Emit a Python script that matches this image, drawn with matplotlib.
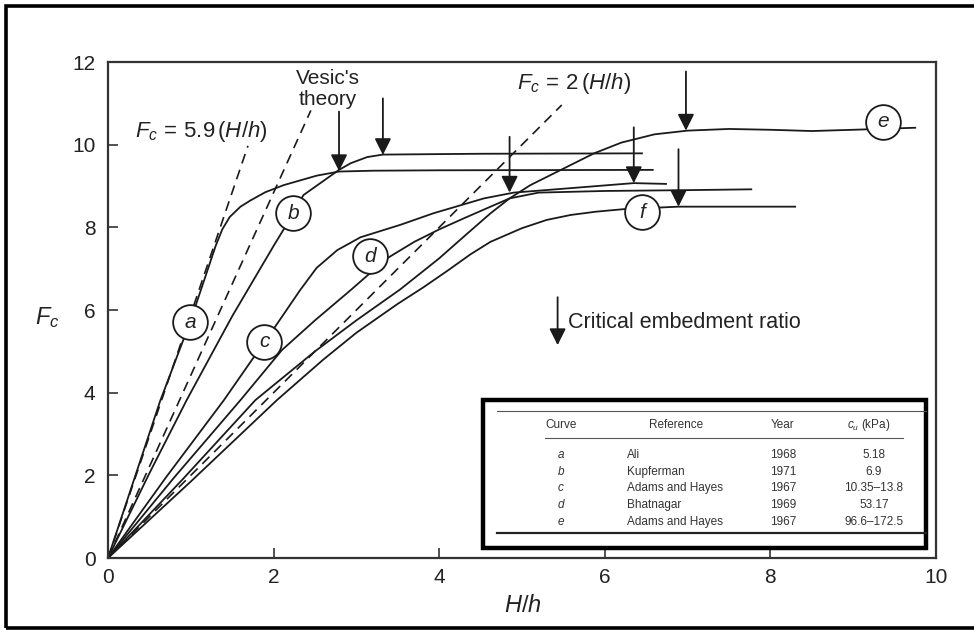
import matplotlib
matplotlib.use("Agg")
import matplotlib.pyplot as plt
from matplotlib.patches import Rectangle

plt.rcParams['font.family'] = ['Liberation Sans', 'DejaVu Sans']
plt.rcParams['mathtext.fontset'] = 'custom'
plt.rcParams['mathtext.rm'] = 'Liberation Sans'
plt.rcParams['mathtext.it'] = 'Liberation Sans:italic'
plt.rcParams['mathtext.bf'] = 'Liberation Sans:bold'

# ---------------- data ----------------
curve_a_x = [0, 0.63, 0.99, 1.2, 1.3, 1.38, 1.47, 1.6, 1.72, 1.9, 2.12, 2.52, 2.79, 3.2, 4.0, 6.59]
curve_a_y = [0, 3.8, 5.7, 6.95, 7.55, 7.95, 8.25, 8.5, 8.65, 8.85, 9.02, 9.25, 9.35, 9.37, 9.38, 9.39]

curve_b_x = [0, 0.5, 0.95, 1.5, 2.0, 2.24, 2.36, 2.79, 2.93, 3.13, 3.32, 4.5, 6.46]
curve_b_y = [0, 2.05, 3.82, 5.85, 7.55, 8.34, 8.78, 9.39, 9.55, 9.70, 9.76, 9.78, 9.79]

curve_c_x = [0, 0.7, 1.4, 1.89, 2.02, 2.32, 2.52, 2.77, 3.05, 3.53, 3.93, 4.54, 4.9, 5.6, 6.35, 6.75]
curve_c_y = [0, 1.95, 3.82, 5.23, 5.6, 6.48, 7.02, 7.45, 7.76, 8.06, 8.34, 8.70, 8.84, 8.95, 9.07, 9.05]

curve_d_x = [0, 0.8, 1.6, 2.1, 2.5, 2.93, 3.17, 3.37, 3.7, 4.0, 4.3, 4.62, 4.85, 5.2, 6.0, 7.0, 7.78]
curve_d_y = [0, 1.95, 3.82, 5.03, 5.75, 6.48, 6.9, 7.25, 7.65, 7.95, 8.22, 8.5, 8.7, 8.84, 8.88, 8.9, 8.92]

curve_e_x = [0, 0.9, 1.78, 2.5, 3.0, 3.53, 4.0, 4.3, 4.62, 4.85, 5.1, 5.47, 5.87, 6.2, 6.6, 7.0, 7.5, 8.0, 8.5, 9.0, 9.76]
curve_e_y = [0, 1.9, 3.82, 5.0, 5.75, 6.5, 7.25, 7.78, 8.34, 8.7, 9.02, 9.39, 9.79, 10.05, 10.25, 10.34, 10.38, 10.36, 10.33, 10.36, 10.41]

curve_f_x = [0, 1.0, 2.04, 2.6, 3.0, 3.5, 3.81, 4.1, 4.38, 4.62, 5.0, 5.3, 5.59, 5.9, 6.23, 6.89, 7.5, 8.31]
curve_f_y = [0, 1.85, 3.82, 4.8, 5.45, 6.15, 6.55, 6.95, 7.35, 7.65, 7.98, 8.18, 8.3, 8.38, 8.44, 8.50, 8.50, 8.50]

theory_59_x = [0, 1.69]          # Fc = 5.9 (H/h)
vesic_x = [0, 2.45]              # Vesic's theory
vesic_slope = 4.42
theory_2_x = [0, 5.48]           # Fc = 2 (H/h)

label_names = ['a', 'b', 'c', 'd', 'e', 'f']
label_x = [0.99, 2.24, 1.89, 3.17, 9.36, 6.45]
label_y = [5.70, 8.34, 5.23, 7.30, 10.56, 8.36]

crit_x = [2.79, 3.32, 4.85, 6.35, 6.89, 6.98]
crit_tip = [9.36, 9.75, 8.84, 9.07, 8.50, 10.34]
crit_top = [10.8, 11.12, 10.19, 10.42, 9.89, 11.77]

table_header = ['Curve', 'Reference', 'Year', '$c_u$ (kPa)']
table_curve = ['a', 'b', 'c', 'd', 'e']
table_ref = ['Ali', 'Kupferman', 'Adams and Hayes', 'Bhatnagar', 'Adams and Hayes']
table_year = ['1968', '1971', '1967', '1969', '1967']
table_cu = ['5.18', '6.9', '10.35\u201313.8', '53.17', '96.6\u2013172.5']

xticks = [0, 2, 4, 6, 8, 10]
yticks = [0, 2, 4, 6, 8, 10, 12]

# ---------------- figure ----------------
fig = plt.figure(figsize=(9.74, 6.30), dpi=100)
ax = fig.add_axes([108/974, 1-558/630, (936-108)/974, (558-62)/630])
ax.set_xlim(0, 10)
ax.set_ylim(0, 12)

lc = '#1a1a1a'
lw = 1.3
for xs, ys in [(curve_a_x, curve_a_y), (curve_b_x, curve_b_y), (curve_c_x, curve_c_y),
               (curve_d_x, curve_d_y), (curve_e_x, curve_e_y), (curve_f_x, curve_f_y)]:
    ax.plot(xs, ys, color=lc, lw=lw, solid_capstyle='butt', solid_joinstyle='round', zorder=2)

dash = (6, 4)
ax.plot(theory_59_x, [5.9*v for v in theory_59_x], color=lc, lw=1.2, dashes=dash, zorder=2)
ax.plot(vesic_x, [vesic_slope*v for v in vesic_x], color=lc, lw=1.2, dashes=dash, zorder=2)
ax.plot(theory_2_x, [2*v for v in theory_2_x], color=lc, lw=1.2, dashes=dash, zorder=2)

# circle labels
ax.plot(label_x, label_y, 'o', ms=25, mfc='white', mec=lc, mew=1.3, zorder=4, ls='none')
for n, x, y in zip(label_names, label_x, label_y):
    ax.text(x, y, n, ha='center', va='center', fontsize=15, style='italic',
            color='#222', zorder=5)

# critical arrows
astyle = '-|>,head_length=0.5,head_width=0.25'
for x, t, top in zip(crit_x, crit_tip, crit_top):
    ax.annotate('', xy=(x, t), xytext=(x, top),
                arrowprops=dict(arrowstyle=astyle, mutation_scale=20, lw=1.3,
                                color=lc, shrinkA=0, shrinkB=0), zorder=3)

ax.annotate('', xy=(5.43, 5.15), xytext=(5.43, 6.31),
            arrowprops=dict(arrowstyle=astyle, mutation_scale=20, lw=1.3,
                            color=lc, shrinkA=0, shrinkB=0))
ax.text(5.56, 5.69, 'Critical embedment ratio', ha='left', va='center',
        fontsize=15.5, color='#222')

# theory labels
ax.text(0.33, 10.31, '$F_c\\,=\\,5.9\\,(H/h)$', ha='left', va='center', fontsize=16, color='#222')
ax.text(4.94, 11.48, '$F_c\\,=\\,2\\,(H/h)$', ha='left', va='center', fontsize=16, color='#222')
ax.text(2.65, 11.35, "Vesic's\ntheory", ha='center', va='center', fontsize=15,
        color='#222', linespacing=1.1)

# table box
ax.add_patch(Rectangle((4.53, 0.24), 9.88-4.53, 3.82-0.24, fill=True, fc='white',
                       ec='black', lw=3.2, zorder=6))
ax.plot([4.70, 9.88], [3.56, 3.56], color='#555', lw=0.8, zorder=7)
ax.plot([5.28, 9.60], [2.91, 2.91], color='#555', lw=0.8, zorder=7)
ax.plot([4.70, 9.88], [0.61, 0.61], color='#222', lw=1.6, zorder=7)
tfs = 8.5
tcol = '#333'
hx = [5.47, 6.86, 8.15, 9.19]
for h, x in zip(table_header, hx):
    ax.text(x, 3.22, h, ha='center', va='center', fontsize=tfs, color=tcol, zorder=8)
rows_y = [2.49, 2.09, 1.69, 1.28, 0.88]
for i, ry in enumerate(rows_y):
    ax.text(5.47, ry, table_curve[i], ha='center', va='center', fontsize=tfs,
            style='italic', color=tcol, zorder=8)
    ax.text(6.27, ry, table_ref[i], ha='left', va='center', fontsize=tfs, color=tcol, zorder=8)
    ax.text(8.15, ry, table_year[i], ha='center', va='center', fontsize=tfs, color=tcol, zorder=8)
    ax.text(9.25, ry, table_cu[i], ha='center', va='center', fontsize=tfs, color=tcol, zorder=8)

# axes styling
for s in ax.spines.values():
    s.set_linewidth(1.6)
    s.set_color('#333')
ax.set_xticks(xticks)
ax.set_yticks(yticks)
ax.tick_params(direction='in', length=7, width=1.2, labelsize=15, colors='#333',
               labelcolor='#222')
ax.tick_params(axis='x', pad=7)
ax.tick_params(axis='y', pad=9)

fig.text(47/974, 1-318/630, '$F_c$', ha='center', va='center', fontsize=17, color='#222')
fig.text(523/974, 1-606/630, '$H/h$', ha='center', va='center', fontsize=17, color='#222')

# outer frame
fig.add_artist(Rectangle((0.0062, 0.0035), 1.2, 0.9875, transform=fig.transFigure,
                         fill=False, ec='black', lw=2.6))

fig.savefig('out.png', dpi=100)
